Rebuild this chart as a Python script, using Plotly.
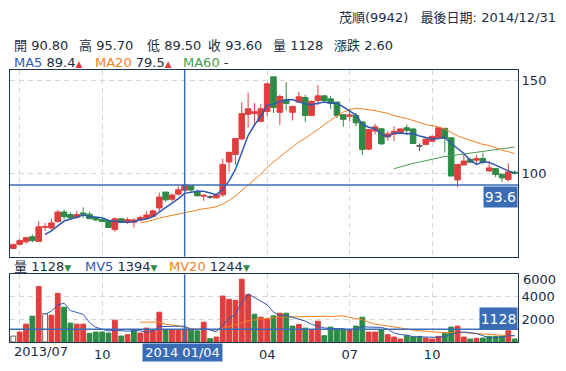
import pandas as pd
import plotly.graph_objects as go

# ---------------- data (weekly) ----------------
dates = [d.strftime("%Y-%m-%d") for d in pd.date_range("2013-06-29", periods=79, freq="7D")] + ["2014-12-31"]

open_ = [59.3, 61.5, 62.9, 65.6, 63.1, 70.8, 70.4, 73.8, 79.0, 77.6,
         76.2, 78.5, 77.8, 76.0, 74.9, 74.4, 69.5, 75.3, 73.3, 73.5,
         74.6, 75.6, 76.7, 81.2, 89.8, 85.9, 88.7, 90.8, 93.2, 90.2,
         87.6, 87.1, 86.7, 88.3, 106.1, 110.2, 118.6, 131.9, 132.4, 128.1,
         133.5, 152.2, 133.0, 139.8, 133.0, 138.6, 141.0, 131.3, 139.4, 141.9,
         140.3, 138.5, 131.7, 130.9, 131.3, 127.8, 113.1, 122.9, 124.1, 119.7,
         121.2, 121.9, 124.6, 124.0, 114.8, 115.6, 117.3, 119.2, 124.3, 119.2,
         96.4, 104.5, 107.4, 107.1, 108.0, 101.2, 102.5, 99.5, 96.6, 100.6]
high = [62.0, 64.5, 65.6, 66.8, 74.0, 73.1, 75.4, 80.1, 80.3, 79.0,
        79.7, 81.5, 79.2, 76.5, 75.2, 74.9, 76.0, 75.8, 76.0, 75.6,
        77.0, 79.4, 80.3, 89.6, 89.8, 89.1, 93.0, 95.7, 93.5, 91.2,
        88.7, 88.0, 88.5, 107.9, 111.7, 118.8, 138.5, 143.7, 138.0, 137.5,
        149.0, 152.2, 142.5, 149.3, 136.5, 144.2, 142.5, 139.5, 147.8, 142.2,
        142.0, 138.8, 132.0, 134.4, 132.6, 128.0, 124.0, 126.9, 124.5, 122.7,
        125.4, 124.3, 126.3, 124.3, 116.2, 118.8, 120.3, 125.0, 124.6, 119.5,
        105.0, 110.2, 108.4, 109.8, 111.1, 106.5, 102.7, 99.7, 105.5, 101.5]
low = [59.0, 60.9, 61.8, 62.5, 63.1, 68.8, 69.2, 73.3, 74.9, 74.7,
       75.4, 75.8, 75.1, 74.0, 73.6, 70.4, 68.4, 73.0, 72.6, 70.6,
       74.2, 75.3, 76.2, 78.9, 84.4, 84.9, 88.0, 89.5, 89.6, 87.5,
       85.1, 86.0, 86.3, 87.1, 100.9, 104.5, 117.9, 124.7, 126.4, 127.5,
       131.0, 132.6, 126.2, 134.0, 128.6, 138.5, 127.8, 131.0, 136.7, 138.0,
       134.9, 129.9, 125.2, 128.1, 125.4, 109.9, 112.4, 121.1, 115.4, 117.7,
       117.4, 121.5, 120.6, 115.8, 112.0, 115.3, 117.0, 119.0, 111.3, 98.3,
       92.4, 104.2, 105.4, 105.2, 104.8, 101.0, 97.9, 95.2, 95.5, 99.4]
close = [61.3, 63.5, 65.1, 63.5, 71.0, 71.0, 73.1, 79.0, 76.5, 75.8,
         77.6, 77.8, 75.4, 74.7, 73.8, 70.6, 75.3, 73.3, 74.9, 74.7,
         76.0, 77.4, 79.6, 87.1, 85.6, 88.2, 91.0, 93.6, 90.9, 87.8,
         88.0, 87.1, 88.2, 104.8, 111.3, 118.8, 132.3, 134.9, 133.3, 134.9,
         148.4, 135.6, 141.6, 137.8, 136.2, 141.4, 131.3, 138.9, 141.9, 139.4,
         138.0, 131.3, 129.2, 131.5, 127.3, 112.9, 123.6, 125.1, 115.9, 121.3,
         122.7, 124.0, 123.2, 116.1, 114.8, 118.5, 120.0, 124.6, 119.0, 98.5,
         104.8, 106.6, 106.0, 107.9, 105.9, 102.9, 99.3, 97.5, 100.7, 99.9]
volume = [520, 870, 1565, 2261, 4870, 2493, 2348, 4261, 3043, 1652,
          1565, 1565, 760, 870, 870, 783, 1913, 522, 638, 1072,
          783, 1217, 1072, 2609, 1072, 1072, 1072, 1128, 1072, 970,
          1739, 290, 435, 4026, 3739, 3652, 5504, 4148, 2435, 2174,
          2029, 2290, 2522, 2522, 1391, 1536, 1217, 1043, 1826, 551,
          1304, 1072, 1072, 1014, 1391, 2174, 870, 870, 1100, 638,
          435, 261, 551, 435, 493, 348, 261, 493, 783, 1304,
          1391, 435, 261, 319, 348, 500, 500, 500, 986, 261]

month_ticks = ["2013-07-06", "2013-10-05", "2014-01-04", "2014-04-05", "2014-07-05", "2014-10-04"]
month_text = ["", "10", "", "04", "07", "10"]
price_ticks = [100, 150]
vol_ticks = [2000, 4000]
cross_date = "2014-01-04"
cross_price = 93.6
cross_vol = 1128

# ---------------- styling ----------------
UP = "#e03e3e"
DOWN = "#2e8b47"
FLAT = "#555555"
BLUE = "#2f58b0"
ORANGE = "#f4801e"
GREEN = "#4c9c4c"
CROSS = "#3a6db5"
NAVY = "#1d3553"
TXT = "#1b2d40"
FONT = "DejaVu Sans, Noto Sans CJK TC, sans-serif"

W, H = 566, 371
ML, MR, MT, MB = 9, 48, 70, 27
PW, PH = W - ML - MR, H - MT - MB


def px(x):
    return (x - ML) / PW


def py(y):
    return (H - MB - y) / PH


df = pd.DataFrame({"date": dates, "open": open_, "high": high, "low": low,
                   "close": close, "volume": volume})
flat = df["open"] == df["close"]
nf = df.where(~flat)
ff = df.where(flat)

ma5 = df["close"].rolling(5).mean()
ma20 = df["close"].rolling(20).mean()
ma60 = df["close"].rolling(60).mean()
mv5 = df["volume"].rolling(5).mean()
mv20 = df["volume"].rolling(20).mean()
for s, n in ((ma5, 5), (ma20, 20), (ma60, 60), (mv5, 5), (mv20, 20)):
    s.iloc[:n] = None

chg = df["close"].diff()
vcol = [("white" if (pd.isna(c) or c == 0) else (UP if c > 0 else DOWN)) for c in chg]
vline = [("#666666" if (pd.isna(c) or c == 0) else (UP if c > 0 else DOWN)) for c in chg]

fig = go.Figure()
fig.add_trace(go.Candlestick(
    x=df["date"], open=nf["open"], high=nf["high"], low=nf["low"], close=nf["close"],
    increasing=dict(line=dict(color=UP, width=1), fillcolor=UP),
    decreasing=dict(line=dict(color=DOWN, width=1), fillcolor=DOWN),
    xaxis="x", yaxis="y", hoverinfo="skip", showlegend=False))
fig.add_trace(go.Candlestick(
    x=df["date"], open=ff["open"], high=ff["high"], low=ff["low"], close=ff["close"],
    increasing=dict(line=dict(color=FLAT, width=1), fillcolor=FLAT),
    decreasing=dict(line=dict(color=FLAT, width=1), fillcolor=FLAT),
    xaxis="x", yaxis="y", hoverinfo="skip", showlegend=False))
fig.add_trace(go.Scatter(x=df["date"], y=ma60, mode="lines", line=dict(color=GREEN, width=1),
                         xaxis="x", yaxis="y", showlegend=False, hoverinfo="skip"))
fig.add_trace(go.Scatter(x=df["date"], y=ma20, mode="lines", line=dict(color=ORANGE, width=1),
                         xaxis="x", yaxis="y", showlegend=False, hoverinfo="skip"))
fig.add_trace(go.Scatter(x=df["date"], y=ma5, mode="lines", line=dict(color=BLUE, width=1.5),
                         xaxis="x", yaxis="y", showlegend=False, hoverinfo="skip"))

fig.add_trace(go.Bar(x=df["date"], y=df["volume"],
                     marker=dict(color=vcol, line=dict(color=vline, width=1)),
                     xaxis="x2", yaxis="y2", showlegend=False, hoverinfo="skip"))
fig.add_trace(go.Scatter(x=df["date"], y=mv20, mode="lines", line=dict(color=ORANGE, width=1),
                         xaxis="x2", yaxis="y2", showlegend=False, hoverinfo="skip"))
fig.add_trace(go.Scatter(x=df["date"], y=mv5, mode="lines", line=dict(color=BLUE, width=1),
                         xaxis="x2", yaxis="y2", showlegend=False, hoverinfo="skip"))

xcommon = dict(type="category", categoryorder="array", categoryarray=dates,
               range=[-0.525, len(dates) - 0.47], tickvals=month_ticks,
               showgrid=True, gridcolor="#d6d6d6", griddash="5px,4px", gridwidth=1,
               showline=True, linecolor=NAVY, linewidth=1, mirror=True,
               ticks="", zeroline=False, fixedrange=True)
ycommon = dict(side="right", showgrid=True, gridcolor="#d6d6d6", griddash="5px,4px",
               showline=True, linecolor=NAVY, linewidth=1, mirror=True, ticks="",
               zeroline=False, fixedrange=True, tickfont=dict(size=13, color=TXT, family=FONT))

fig.update_layout(
    width=W, height=H, margin=dict(l=ML, r=MR, t=MT, b=MB),
    paper_bgcolor="white", plot_bgcolor="white",
    font=dict(family=FONT, color=TXT, size=12),
    boxmode="overlay", boxgap=0.12, boxgroupgap=0, bargap=0.25, showlegend=False,
    xaxis=dict(xcommon, anchor="y", showticklabels=False, rangeslider=dict(visible=False)),
    xaxis2=dict(xcommon, anchor="y2", matches="x", showticklabels=True, ticktext=month_text,
                tickfont=dict(size=13, color=TXT, family=FONT)),
    yaxis=dict(ycommon, domain=[py(258), 1], range=[54.84, 155.91], tickvals=price_ticks),
    yaxis2=dict(ycommon, domain=[0, py(276)], range=[0, 5913], tickvals=vol_ticks),
)

# crosshair
shapes = [
    dict(type="line", xref="x", yref="y domain", x0=cross_date, x1=cross_date, y0=0, y1=1,
         line=dict(color=CROSS, width=1.5)),
    dict(type="line", xref="x2", yref="y2 domain", x0=cross_date, x1=cross_date, y0=0, y1=1,
         line=dict(color=CROSS, width=1.5)),
    dict(type="line", xref="x domain", yref="y", x0=0, x1=1, y0=cross_price, y1=cross_price,
         line=dict(color=CROSS, width=1.5)),
    dict(type="line", xref="x2 domain", yref="y2", x0=0, x1=1, y0=cross_vol, y1=cross_vol,
         line=dict(color=CROSS, width=1.5)),
]
fig.update_layout(shapes=shapes)

ann = []


def text(x, y, s, size=13, anchor="left", color=TXT):
    ann.append(dict(xref="paper", yref="paper", x=px(x), y=py(y), text=s, showarrow=False,
                    xanchor=anchor, yanchor="middle", font=dict(size=size, color=color, family=FONT)))


text(558, 17, "茂順(9942)&nbsp;&nbsp;&nbsp;最後日期: 2014/12/31", anchor="right")
for s, x in (("開 90.80", 10.8), ("高 95.70", 76.5), ("低 89.50", 144.4),
             ("收 93.60", 205.8), ("量 1128", 270.8), ("漲跌 2.60", 331.4)):
    text(x, 45, s)
up_tri = f"<span style='color:{UP};font-size:9px'>▲</span>"
dn_tri = f"<span style='color:{DOWN};font-size:9px'>▼</span>"
text(10.8, 62, f"<span style='color:{BLUE}'>MA5</span> 89.4{up_tri}")
text(92, 62, f"<span style='color:{ORANGE}'>MA20</span> 79.5{up_tri}")
text(180.5, 62, f"<span style='color:{GREEN}'>MA60</span> -")
text(11, 267.5, f"量 1128{dn_tri}")
text(82, 267.5, f"<span style='color:{BLUE}'>MV5</span> 1394{dn_tri}")
text(166.5, 267.5, f"<span style='color:{ORANGE}'>MV20</span> 1244{dn_tri}")
text(11.5, 354, "2013/07")
text(521, 281.5, "6000")

# crosshair value labels
ann.append(dict(xref="paper", yref="paper", x=px(518.5), y=py(186.7), xanchor="right", yanchor="top",
                text="93.6", showarrow=False, bgcolor=CROSS, width=33, height=20, borderpad=0,
                font=dict(size=14, color="white", family=FONT)))
ann.append(dict(xref="paper", yref="paper", x=px(518.5), y=py(331.7), xanchor="right", yanchor="bottom",
                text="1128", showarrow=False, bgcolor=CROSS, width=37, height=21, borderpad=0,
                font=dict(size=14, color="white", family=FONT)))
ann.append(dict(xref="paper", yref="paper", x=px(181.8), y=py(345), xanchor="center", yanchor="top",
                text="2014 01/04", showarrow=False, bgcolor=CROSS, width=79, height=17, borderpad=0,
                font=dict(size=13, color="white", family=FONT)))
fig.update_layout(annotations=ann)

fig.write_html("out.html", config={"displayModeBar": False, "staticPlot": True})
with open("out.html", encoding="utf-8") as f:
    page = f.read()
page = page.replace("<head>", "<head><style>html,body{margin:0;padding:0;}</style>", 1)
with open("out.html", "w", encoding="utf-8") as f:
    f.write(page)
